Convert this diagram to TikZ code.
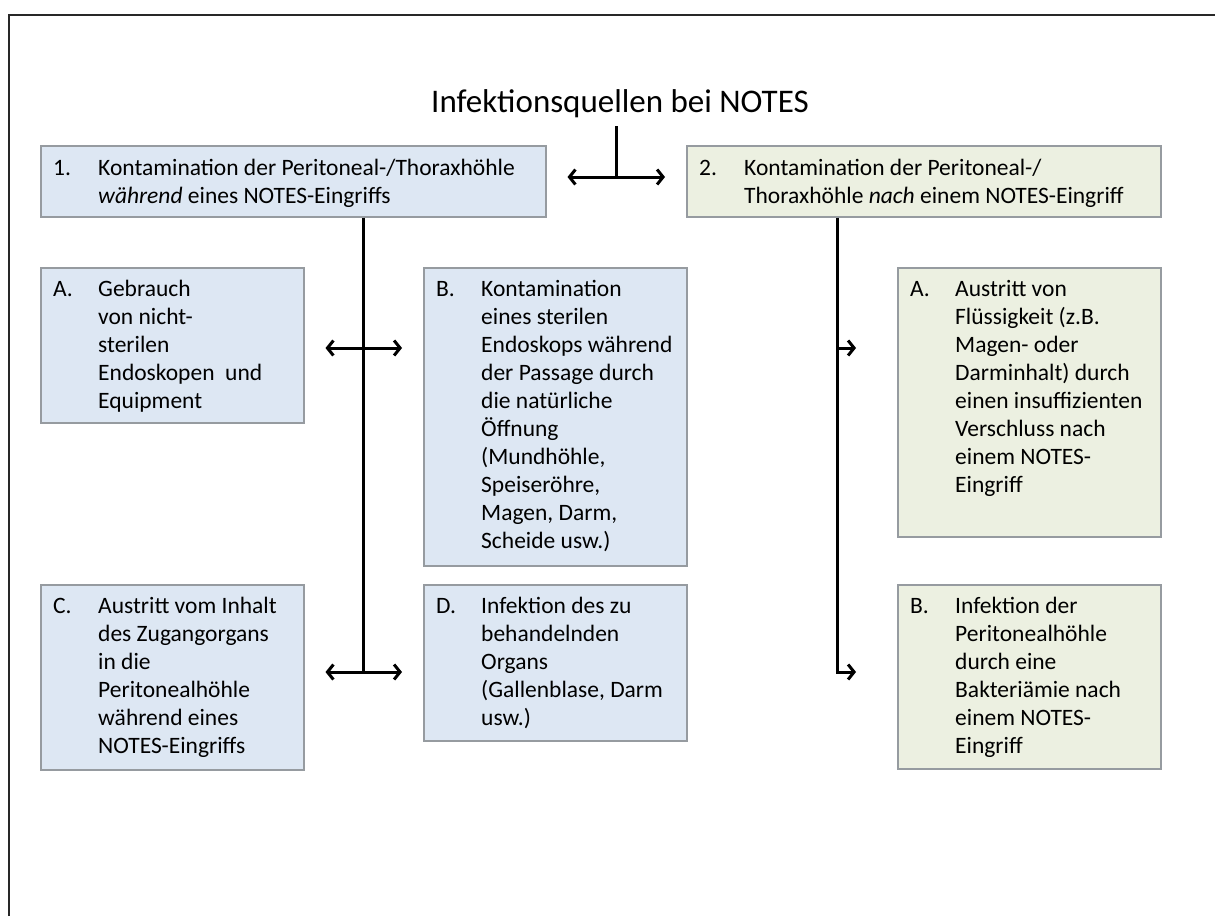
\documentclass[tikz,border=0pt]{standalone}
\usepackage{fontspec}
\setmainfont{Carlito}
\usetikzlibrary{arrows.meta}
\definecolor{boxblue}{RGB}{221,231,243}
\definecolor{boxgreen}{RGB}{236,240,225}
\definecolor{boxline}{RGB}{150,155,160}
\definecolor{framegray}{RGB}{40,40,40}
\newcommand{\boxfont}{\fontsize{23.5}{28}\selectfont}
\newcommand{\entry}[2]{\makebox[45pt][l]{#1}\begin{tabular}[t]{@{}l@{}}#2\end{tabular}}

\begin{document}
\begin{tikzpicture}[x=1pt,y=-1pt,
  boxbase/.style={draw=boxline,line width=1.5pt,anchor=north west,inner sep=0pt},
  bluebox/.style={boxbase,fill=boxblue},
  greenbox/.style={boxbase,fill=boxgreen},
  boxtext/.style={anchor=north west,inner sep=0pt,align=left,font=\boxfont},
  link/.style={line width=3pt},
  >={Straight Barb[length=6pt,width=15pt]}]
\useasboundingbox (0,0) rectangle (1215,916);
\draw[framegray,line width=2pt] (8.5,916) -- (8.5,14.5) -- (1215,14.5);
% title
\node[font=\fontsize{33}{40}\selectfont,inner xsep=3pt,inner ysep=8pt] (title) at (620,104) {Infektionsquellen bei NOTES};
% main groups
\node[bluebox,minimum width=505pt,minimum height=71pt] (k1) at (40,145) {};
\node[boxtext] (k1t) at ([shift={(13pt,-11pt)}]k1.north west) {\entry{1.}{Kontamination der Peritoneal-/Thoraxhöhle\\\textit{während} eines NOTES-Eingriffs}};
\node[greenbox,minimum width=474pt,minimum height=71pt] (k2) at (686,145) {};
\node[boxtext] (k2t) at ([shift={(13pt,-11pt)}]k2.north west) {\entry{2.}{Kontamination der Peritoneal-/\\Thoraxhöhle \textit{nach} einem NOTES-Eingriff}};
% during
\node[bluebox,minimum width=263pt,minimum height=155pt] (A) at (40,267) {};
\node[boxtext] (At) at ([shift={(13pt,-10pt)}]A.north west) {\entry{A.}{Gebrauch\\von nicht-\\sterilen\\Endoskopen~ und\\Equipment}};
\node[bluebox,minimum width=263pt,minimum height=298pt] (B) at (423,267) {};
\node[boxtext] (Bt) at ([shift={(13pt,-10pt)}]B.north west) {\entry{B.}{Kontamination\\eines sterilen\\Endoskops während\\der Passage durch\\die natürliche\\Öffnung\\(Mundhöhle,\\Speiseröhre,\\Magen, Darm,\\Scheide usw.)}};
\node[bluebox,minimum width=263pt,minimum height=185pt] (C) at (40,584) {};
\node[boxtext] (Ct) at ([shift={(13pt,-10pt)}]C.north west) {\entry{C.}{Austritt vom Inhalt\\des Zugangorgans\\in die\\Peritonealhöhle\\während eines\\NOTES-Eingriffs}};
\node[bluebox,minimum width=263pt,minimum height=156pt] (D) at (423,584) {};
\node[boxtext] (Dt) at ([shift={(13pt,-10pt)}]D.north west) {\entry{D.}{Infektion des zu\\behandelnden\\Organs\\(Gallenblase, Darm\\usw.)}};
% after
\node[greenbox,minimum width=263pt,minimum height=269pt] (RA) at (897,267) {};
\node[boxtext] (RAt) at ([shift={(13pt,-10pt)}]RA.north west) {\entry{A.}{Austritt von\\Flüssigkeit (z.B.\\Magen- oder\\Darminhalt) durch\\einen insuffizienten\\Verschluss nach\\einem NOTES-\\Eingriff}};
\node[greenbox,minimum width=263pt,minimum height=184pt] (RB) at (897,584) {};
\node[boxtext] (RBt) at ([shift={(13pt,-10pt)}]RB.north west) {\entry{B.}{Infektion der\\Peritonealhöhle\\durch eine\\Bakteriämie nach\\einem NOTES-\\Eingriff}};
% connectors
\coordinate (split) at (616,177);
\coordinate (ltrunk) at (363,0);
\coordinate (rtrunk) at (837,0);
\coordinate (rowA) at (0,348);
\coordinate (rowC) at (0,672);
\draw[link] (title.south -| split) -- (split);
\draw[link,<->] ([xshift=21pt]k1.east |- split) -- ([xshift=-21pt]k2.west |- split);
\draw[link] (k1.south -| ltrunk) -- (ltrunk |- rowC);
\draw[link,<->] ([xshift=21pt]A.east |- rowA) -- ([xshift=-21pt]B.west |- rowA);
\draw[link,<->] ([xshift=21pt]C.east |- rowC) -- ([xshift=-21pt]D.west |- rowC);
\draw[link,->] (k2.south -| rtrunk) -- (rtrunk |- rowC) -- ([xshift=-41pt]RB.west |- rowC);
\draw[link,->] (rtrunk |- rowA) -- ([xshift=-41pt]RA.west |- rowA);
\end{tikzpicture}
\end{document}
